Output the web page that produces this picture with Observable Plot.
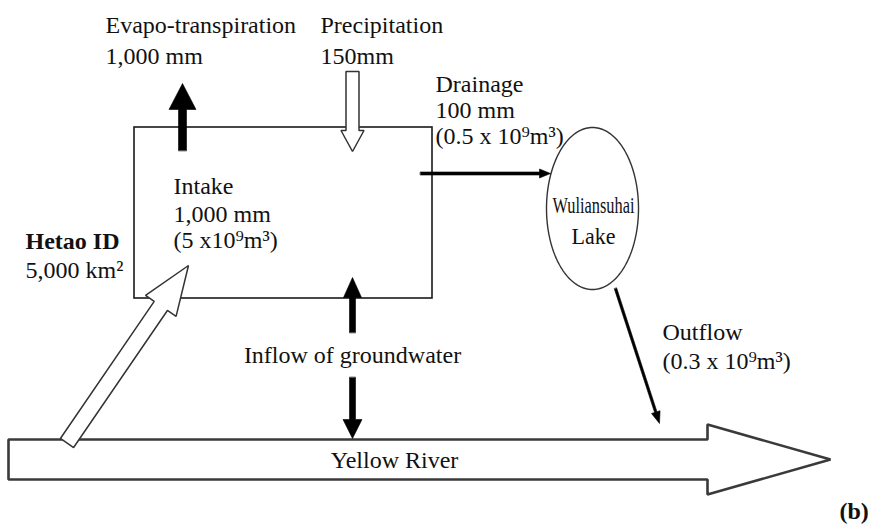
<!DOCTYPE html>
<html><head><meta charset="utf-8">
<script src="https://cdn.jsdelivr.net/npm/d3@7"></script>
<script src="https://cdn.jsdelivr.net/npm/@observablehq/plot@0.6"></script>
<style>body{margin:0;background:#fff} svg{display:block}</style>
</head><body><div id="chart"></div>
<script>
// ---- diagram data (diagram units = pixels of the 871x524 frame) ----
const district = [{name: "Hetao ID", x1: 134, y1: 127, x2: 432, y2: 298}];
const lake = [{name: "Wuliansuhai Lake", cx: 592, cy: 208, rx: 46, ry: 81}];
const river = [{name: "Yellow River", x1: 8, y1: 459, x2: 830, y2: 459, shaft: 40, head: 70, headLen: 123}];
const solidFlows = [
  {name: "Evapo-transpiration", x1: 182, y1: 150, x2: 182, y2: 83, shaft: 8, head: 27, headLen: 26},
  {name: "Groundwater up", x1: 352, y1: 332, x2: 352, y2: 277, shaft: 6, head: 18, headLen: 20},
  {name: "Groundwater down", x1: 352, y1: 377, x2: 352, y2: 438, shaft: 6, head: 19, headLen: 19},
  {name: "Drainage", x1: 420, y1: 173, x2: 550, y2: 173, shaft: 3, head: 9, headLen: 11},
  {name: "Outflow", x1: 615, y1: 288, x2: 659, y2: 423, shaft: 2.5, head: 9, headLen: 12}
];
const hollowFlows = [
  {name: "Precipitation", x1: 352, y1: 71, x2: 352, y2: 151, shaft: 13, head: 23, headLen: 21},
  {name: "Intake", x1: 66.5, y1: 442.5, x2: 188, y2: 265, shaft: 16, head: 37, headLen: 49}
];
const labelsLeft = [
  {text: "Evapo-transpiration", x: 105, y: 32},
  {text: "1,000 mm", x: 105, y: 63},
  {text: "Precipitation", x: 320, y: 32},
  {text: "150mm", x: 320, y: 63},
  {text: "Drainage", x: 435, y: 91},
  {text: "100 mm", x: 435, y: 117},
  {text: "(0.5 x 10⁹m³)", x: 435, y: 143},
  {text: "Intake", x: 173, y: 193},
  {text: "1,000 mm", x: 173, y: 221},
  {text: "(5 x10⁹m³)", x: 173, y: 247},
  {text: "5,000 km²", x: 25, y: 277},
  {text: "Outflow", x: 662, y: 339},
  {text: "(0.3 x 10⁹m³)", x: 662, y: 368}
];
const labelsCenter = [
  {text: "Inflow of groundwater", x: 352, y: 362},
  {text: "Yellow River", x: 394, y: 467}
];
const labelsLake = [
  {text: "Wuliansuhai", x: 593, y: 212, len: 82},
  {text: "Lake", x: 593, y: 243, len: 44}
];
const labelsBold = [
  {text: "Hetao ID", x: 25, y: 248},
  {text: "(b)", x: 839, y: 518}
];

// ---- geometry helpers ----
function arrowPolygons(flows) {
  const pts = [];
  flows.forEach((f) => {
    const dx = f.x2 - f.x1, dy = f.y2 - f.y1, L = Math.hypot(dx, dy);
    const ux = dx / L, uy = dy / L, px = -uy, py = ux;
    const s = f.shaft / 2, h = f.head / 2;
    const bx = f.x2 - ux * f.headLen, by = f.y2 - uy * f.headLen;
    [[f.x1 + px * s, f.y1 + py * s], [bx + px * s, by + py * s], [bx + px * h, by + py * h],
     [f.x2, f.y2], [bx - px * h, by - py * h], [bx - px * s, by - py * s], [f.x1 - px * s, f.y1 - py * s]]
      .forEach(([x, y]) => pts.push({id: f.name, x, y}));
  });
  return pts;
}
function ellipsePoints(e) {
  return d3.range(0, 360, 2).map(a => ({id: e.name, x: e.cx + e.rx * Math.cos(a * Math.PI / 180), y: e.cy + e.ry * Math.sin(a * Math.PI / 180)}));
}

const font = "'Liberation Serif', 'Times New Roman', serif";
const fs = 24;

const chart = Plot.plot({
  width: 871, height: 524,
  margin: 0,
  x: {domain: [0, 871], range: [0, 871], axis: null},
  y: {domain: [0, 524], range: [0, 524], axis: null},
  style: {background: "#fff", fontFamily: font},
  marks: [
    Plot.rect(district, {x1: "x1", y1: "y1", x2: "x2", y2: "y2", fill: "none", stroke: "#1a1a1a", strokeWidth: 1.6}),
    Plot.line(lake.flatMap(ellipsePoints), {x: "x", y: "y", z: "id", curve: "linear-closed", fill: "none", stroke: "#333", strokeWidth: 1.4}),
    Plot.line(arrowPolygons(river), {x: "x", y: "y", z: "id", curve: "linear-closed", fill: "white", stroke: "#3a3a3a", strokeWidth: 2.6, strokeLinejoin: "miter"}),
    Plot.line(arrowPolygons(hollowFlows), {x: "x", y: "y", z: "id", curve: "linear-closed", fill: "white", stroke: "#333", strokeWidth: 1.5, strokeLinejoin: "miter"}),
    Plot.line(arrowPolygons(solidFlows), {x: "x", y: "y", z: "id", curve: "linear-closed", fill: "#000", stroke: "#000", strokeWidth: 0.6, strokeLinejoin: "miter"}),
    Plot.text(labelsLeft, {x: "x", y: "y", text: "text", textAnchor: "start", lineAnchor: "bottom", fontSize: fs, fill: "#111"}),
    Plot.text(labelsCenter, {x: "x", y: "y", text: "text", textAnchor: "middle", lineAnchor: "bottom", fontSize: fs, fill: "#111"}),
    Plot.text(labelsLake, {x: "x", y: "y", text: "text", textAnchor: "middle", lineAnchor: "bottom", fontSize: 23, fill: "#111", className: "lake-label"}),
    Plot.text(labelsBold, {x: "x", y: "y", text: "text", textAnchor: "start", lineAnchor: "bottom", fontSize: fs, fontWeight: "bold", fill: "#111"})
  ]
});
// condense the lake label so it sits inside the ellipse, as in the reference
d3.select(chart).selectAll(".lake-label text").each(function () {
  const t = this.textContent;
  const d = labelsLake.find(l => l.text === t);
  if (d) { this.setAttribute("textLength", d.len); this.setAttribute("lengthAdjust", "spacingAndGlyphs"); }
});
document.getElementById("chart").appendChild(chart);
</script>
</body></html>
